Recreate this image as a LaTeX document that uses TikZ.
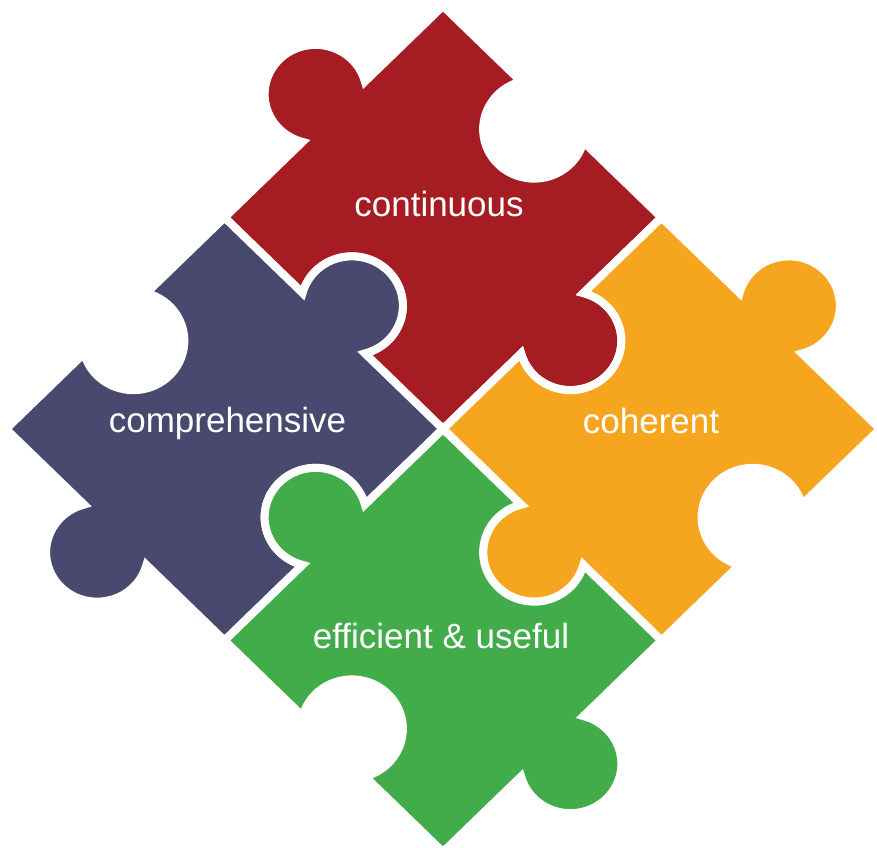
\documentclass[tikz,border=0pt]{standalone}
\usepackage{fontspec}
\setmainfont{Liberation Sans}
\definecolor{pred}{RGB}{166,28,35}
\definecolor{pblue}{RGB}{73,72,111}
\definecolor{porange}{RGB}{246,166,30}
\definecolor{pgreen}{RGB}{66,171,74}
\tikzset{
  piece/.style={draw=white, line width=8pt, line join=miter},
  lbl/.style={text=white, font=\fontsize{35}{42}\selectfont, anchor=base, inner sep=0pt}
}
\begin{document}
\begin{tikzpicture}[x=1pt,y=1pt]
\fill[white] (0,0) rectangle (877,-847);
\useasboundingbox (0,0) rectangle (877,-847);
\begin{scope}[x=100pt,y=100pt,cm={2.185,2.115,-2.185,2.115,(443pt,-429pt)}]
% red (top)
\path[piece, fill=pred] (0,0) -- (0.3574,0) arc[start angle=149.8, end angle=390.2, radius=16.5pt]
  -- (1,0) -- (1,0.3574) arc[start angle=-59.8, end angle=-300.2, radius=16.5pt]
  -- (1,1) -- (0.6426,1) arc[start angle=329.8, end angle=570.2, radius=16.5pt]
  -- (0,1) -- (0,0.6426) arc[start angle=120.2, end angle=-120.2, radius=16.5pt] -- cycle;
% blue (left)
\path[piece, fill=pblue] (-1,0) -- (-0.6426,0) arc[start angle=-149.8, end angle=-390.2, radius=16.5pt]
  -- (0,0) -- (0,0.3574) arc[start angle=239.8, end angle=480.2, radius=16.5pt]
  -- (0,1) -- (-0.3574,1) arc[start angle=30.2, end angle=-210.2, radius=16.5pt]
  -- (-1,1) -- (-1,0.6426) arc[start angle=419.8, end angle=660.2, radius=16.5pt] -- cycle;
% orange (right)
\path[piece, fill=porange] (0,-1) -- (0.3574,-1) arc[start angle=-149.8, end angle=-390.2, radius=16.5pt]
  -- (1,-1) -- (1,-0.6426) arc[start angle=239.8, end angle=480.2, radius=16.5pt]
  -- (1,0) -- (0.6426,0) arc[start angle=30.2, end angle=-210.2, radius=16.5pt]
  -- (0,0) -- (0,-0.3574) arc[start angle=419.8, end angle=660.2, radius=16.5pt] -- cycle;
% green (bottom)
\path[piece, fill=pgreen] (-1,-1) -- (-0.6426,-1) arc[start angle=149.8, end angle=390.2, radius=16.5pt]
  -- (0,-1) -- (0,-0.6426) arc[start angle=-59.8, end angle=-300.2, radius=16.5pt]
  -- (0,0) -- (-0.3574,0) arc[start angle=329.8, end angle=570.2, radius=16.5pt]
  -- (-1,0) -- (-1,-0.3574) arc[start angle=120.2, end angle=-120.2, radius=16.5pt] -- cycle;
\end{scope}
\node[lbl] (tcont) at (439,-216) {continuous};
\node[lbl] (tcomp) at (227.5,-432) {comprehensive};
\node[lbl] (tcoh) at (651,-433) {coherent};
\node[lbl] (teff) at (441,-648) {efficient \& useful};
\end{tikzpicture}
\end{document}
